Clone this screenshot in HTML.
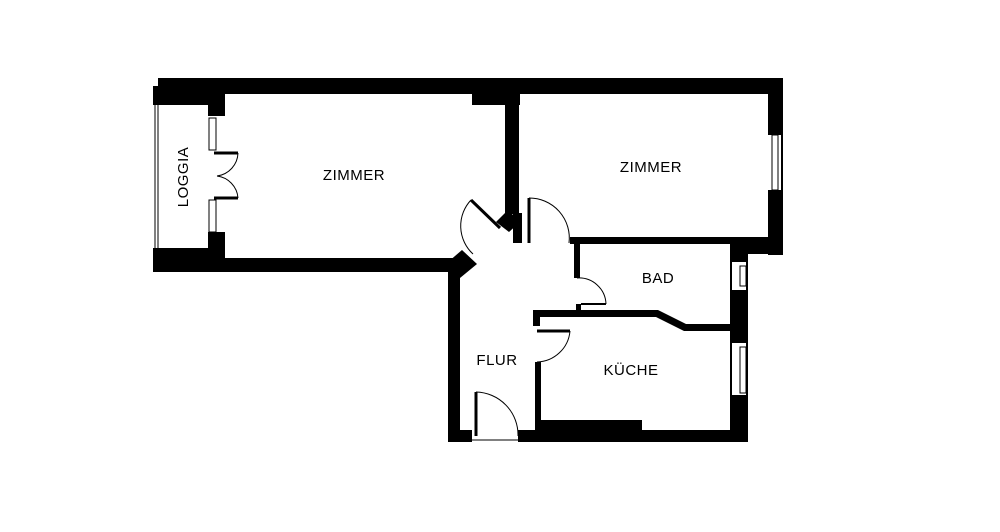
<!DOCTYPE html>
<html><head><style>body{margin:0;background:#fff}svg{display:block}</style></head><body>
<svg width="1000" height="532" viewBox="0 0 1000 532" xmlns="http://www.w3.org/2000/svg" font-family="Liberation Sans, sans-serif">
<g fill="#000">
<rect x="158" y="78" width="625" height="16"/>
<rect x="153" y="86" width="72" height="19"/>
<rect x="208" y="94" width="17" height="22"/>
<rect x="472" y="94" width="48" height="11"/>
<rect x="768" y="78" width="15" height="177"/>
<rect x="153" y="248" width="72" height="24"/>
<rect x="208" y="232" width="17" height="20"/>
<rect x="153" y="258" width="300" height="14"/>
<polygon points="448,262 462,250 477,264 460,278 448,278"/>
<rect x="505" y="94" width="14" height="120"/>
<polygon points="496,222 508,210 520,222 509,232"/>
<rect x="513" y="213" width="9" height="30"/>
<rect x="448" y="265" width="12" height="177"/>
<rect x="448" y="430" width="24" height="12"/>
<rect x="518" y="430" width="230" height="12"/>
<rect x="535" y="420" width="107" height="14"/>
<rect x="570" y="237" width="197" height="7"/>
<rect x="730" y="237" width="53" height="17"/>
<rect x="730" y="237" width="18" height="205"/>
<rect x="574" y="244" width="6" height="34"/>
<rect x="576" y="304" width="5" height="8"/>
<polygon points="533,310 658,310 686,324 730,324 730,331 684,331 656,317 540,317 540,326 533,326"/>
<rect x="535" y="362" width="6" height="70"/>
</g>
<g fill="#fff" stroke="#000" stroke-width="1">
<rect x="209" y="118" width="7" height="32"/>
<rect x="209" y="200" width="7" height="32"/>
<rect x="768" y="135" width="13" height="55" fill="#fff" stroke="none"/>
<rect x="772" y="135" width="6" height="55"/>
<rect x="732" y="262" width="14" height="28" stroke="none"/>
<rect x="740" y="266" width="6" height="20"/>
<rect x="732" y="343" width="14" height="52" stroke="none"/>
<rect x="740" y="347" width="6" height="46"/>
<line x1="155" y1="105" x2="155" y2="248"/>
<line x1="158" y1="105" x2="158" y2="248"/>
</g>
<g fill="none" stroke="#000" stroke-width="1">
<line x1="214" y1="153" x2="238" y2="153" stroke-width="3"/>
<line x1="214" y1="198" x2="238" y2="198" stroke-width="3"/>
<path d="M238,153 A24,24 0 0 1 217,176"/>
<path d="M238,198 A24,24 0 0 0 217,176"/>
<line x1="471" y1="200" x2="500" y2="228" stroke-width="3"/>
<path d="M471,200 A38,38 0 0 0 473,254"/>
<line x1="529" y1="198" x2="529" y2="243" stroke-width="3"/>
<path d="M529,198 A40,40 0 0 1 569,243"/>
<line x1="581" y1="304" x2="606" y2="304" stroke-width="2"/>
<path d="M577,278 A27,27 0 0 1 606,304"/>
<line x1="537" y1="331" x2="570" y2="331" stroke-width="3"/>
<path d="M570,331 A34,34 0 0 1 537,362"/>
<line x1="476" y1="392" x2="476" y2="436" stroke-width="3"/>
<path d="M476,392 A43,43 0 0 1 518,436"/>
<line x1="472" y1="440" x2="518" y2="440"/>
</g>
<g font-size="15" fill="#000" text-anchor="middle" letter-spacing="0.5">
<text x="354" y="180">ZIMMER</text>
<text x="651" y="172">ZIMMER</text>
<text x="658" y="283">BAD</text>
<text x="497" y="365">FLUR</text>
<text x="631" y="375">KÜCHE</text>
<text transform="translate(188,177) rotate(-90)">LOGGIA</text>
</g>
</svg>
</body></html>
